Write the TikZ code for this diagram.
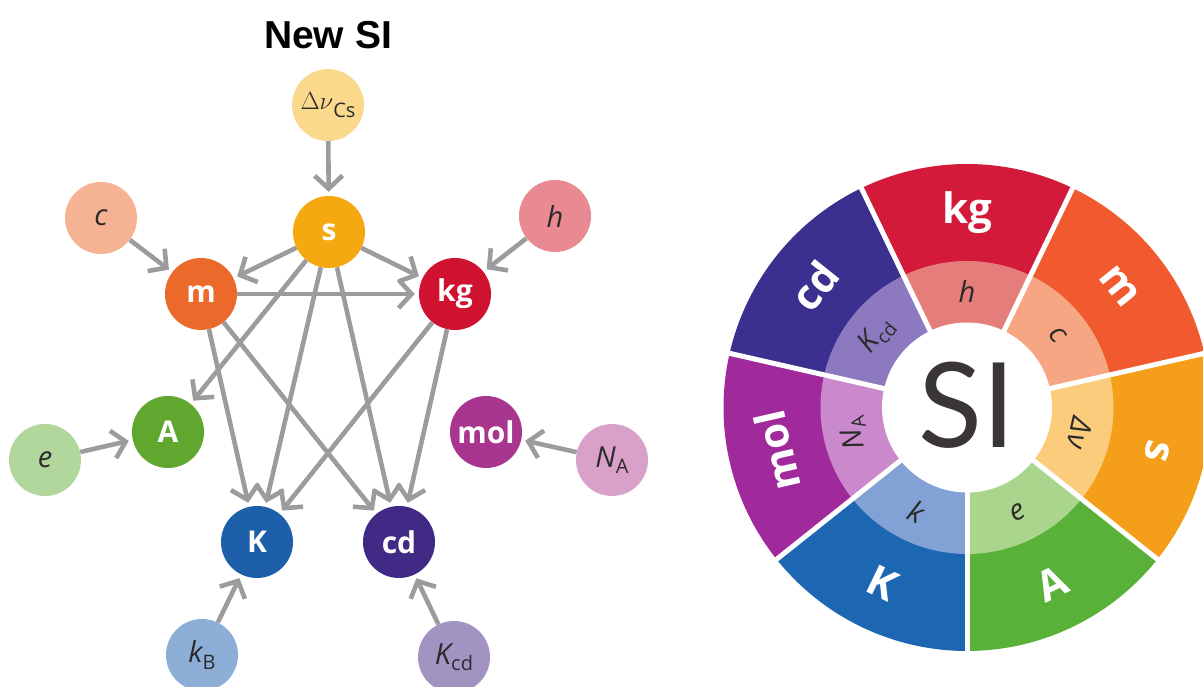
\documentclass[tikz,border=0pt]{standalone}
\usepackage{fontspec}
\setsansfont{Open Sans}
\newfontfamily\arialb{Liberation Sans}
\newfontfamily\lato{Lato}
\usetikzlibrary{arrows.meta}
\definecolor{cDnu}{HTML}{FAD98C}
\definecolor{cS}{HTML}{F5A80F}
\definecolor{cC}{HTML}{F5B394}
\definecolor{cM}{HTML}{EB6A2B}
\definecolor{cH}{HTML}{E98A93}
\definecolor{cKg}{HTML}{CF1230}
\definecolor{cA}{HTML}{5FA72F}
\definecolor{cE}{HTML}{B1D79C}
\definecolor{cMol}{HTML}{A8358F}
\definecolor{cNA}{HTML}{D9A1C9}
\definecolor{cK}{HTML}{1D5FA8}
\definecolor{cKB}{HTML}{8DAFD7}
\definecolor{cCd}{HTML}{402A85}
\definecolor{cKcd}{HTML}{A194C3}
\definecolor{edgec}{HTML}{9C9C9C}
\definecolor{txt}{HTML}{2B2B2B}
\definecolor{wKg}{HTML}{D31A3A}\definecolor{wH}{HTML}{E57D7B}
\definecolor{wM}{HTML}{F15A2F}\definecolor{wC}{HTML}{F6A683}
\definecolor{wS}{HTML}{F59E1A}\definecolor{wDnu}{HTML}{FACC7B}
\definecolor{wA}{HTML}{5AB13A}\definecolor{wE}{HTML}{A9D68C}
\definecolor{wK}{HTML}{1D67B2}\definecolor{wKk}{HTML}{82A2D5}
\definecolor{wMol}{HTML}{A0299B}\definecolor{wNA}{HTML}{C989CA}
\definecolor{wCd}{HTML}{3B2F8F}\definecolor{wKcd}{HTML}{8C79C0}
\definecolor{siText}{HTML}{3A3536}
\newcommand\mysub[1]{\raisebox{-0.22em}{\upshape\fontsize{20}{20}\selectfont #1}}
\newcommand\wsub[1]{\raisebox{-0.22em}{\upshape\fontsize{19}{19}\selectfont #1}}
\begin{document}
\begin{tikzpicture}[x=1pt,y=1pt,
  unitnode/.style={circle, minimum size=72pt, inner sep=0pt, text=white,
    font=\sffamily\bfseries\fontsize{30}{30}\selectfont},
  constnode/.style={circle, minimum size=72pt, inner sep=0pt, text=txt,
    font=\sffamily\itshape\fontsize{29}{29}\selectfont},
  link/.style={draw=edgec, line width=4.6pt, shorten >=4pt,
    -{Straight Barb[length=13pt,width=28pt,line width=4.6pt]}},
  outerlab/.style={text=white, font=\sffamily\bfseries\fontsize{42}{42}\selectfont},
  innerlab/.style={text=txt, font=\sffamily\itshape\fontsize{29}{29}\selectfont}
]
\useasboundingbox (0,0) rectangle (1203,686);

% ---------- left graph ----------
\node[font=\arialb\bfseries\fontsize{39}{39}\selectfont] (title) at (328,651) {New SI};

\node[constnode, fill=cDnu] (dnu) at (328,581) {\upshape\fontsize{33}{33}\selectfont$\Delta\nu$\mysub{Cs}};
\node[unitnode, fill=cS] (s) at (329,454) {s};
\node[constnode, fill=cC] (c) at (101,468) {c};
\node[unitnode, fill=cM] (m) at (201,392) {m};
\node[constnode, fill=cH] (h) at (555,470) {h};
\node[unitnode, fill=cKg] (kg) at (455,392) {kg};
\node[unitnode, fill=cA] (A) at (168,254) {A};
\node[constnode, fill=cE] (e) at (45,226) {e};
\node[unitnode, fill=cMol] (mol) at (486,254) {mol};
\node[constnode, fill=cNA] (NA) at (612,226) {N\mysub{A}};
\node[unitnode, fill=cK] (K) at (257,144) {K};
\node[constnode, fill=cKB] (kB) at (202,31) {k\mysub{B}};
\node[unitnode, fill=cCd] (cd) at (399,144) {cd};
\node[constnode, fill=cKcd] (Kcd) at (454,29) {K\mysub{cd}};

\draw[link] (dnu) -- (s);
\draw[link] (c) -- (m);
\draw[link] (h) -- (kg);
\draw[link] (s) -- (m);
\draw[link] (s) -- (kg);
\draw[link] (m) -- (kg);
\draw[link] (s) -- (A);
\draw[link] (s) -- (K);
\draw[link] (s) -- (cd);
\draw[link] (m) -- (K);
\draw[link] (m) -- (cd);
\draw[link] (kg) -- (K);
\draw[link] (kg) -- (cd);
\draw[link] (e) -- (A);
\draw[link] (NA) -- (mol);
\draw[link] (kB) -- (K);
\draw[link] (Kcd) -- (cd);

% ---------- SI wheel ----------
\begin{scope}[shift={(967,278.5)}]
  \foreach \a/\oc/\ic in {270/wA/wE, 321.4286/wS/wDnu, 372.8571/wM/wC,
      424.2857/wKg/wH, 475.7143/wCd/wKcd, 527.1429/wMol/wNA, 578.5714/wK/wKk}
  {
    \pgfmathsetmacro\b{\a+51.4286}
    \fill[\oc] (\a:146) arc[start angle=\a, end angle=\b, radius=146]
      -- (\b:243.5) arc[start angle=\b, end angle=\a, radius=243.5] -- cycle;
    \fill[\ic] (\a:84) arc[start angle=\a, end angle=\b, radius=84]
      -- (\b:146.5) arc[start angle=\b, end angle=\a, radius=146.5] -- cycle;
  }
  \foreach \k in {0,...,6}
  {
    \pgfmathsetmacro\d{270+\k*51.4286}
    \draw[white, line width=5pt] (\d:80) -- (\d:250);
  }
  \fill[white] (0,0) circle[radius=85];
  \node[text=siText, font=\lato\fontsize{118}{118}\selectfont] (si) at (0,2) {SI};

  % outer labels
  \node[outerlab, rotate=0] (lkg) at (90:195) {kg};
  \node[outerlab, rotate=-51.43] (lm) at (38.57:195) {m};
  \node[outerlab, rotate=-102.86] (ls) at (-12.86:195) {s};
  \node[outerlab, rotate=25.71] (lA) at (-64.29:195) {A};
  \node[outerlab, rotate=-25.71] (lK) at (-115.71:195) {K};
  \node[outerlab, rotate=102.86] (lmol) at (192.86:195) {mol};
  \node[outerlab, rotate=51.43] (lcd) at (141.43:195) {cd};

  % inner labels
  \node[innerlab, rotate=0] (ih) at (90:116) {h};
  \node[innerlab, rotate=-51.43] (ic) at (38.57:116) {c};
  \node[innerlab, rotate=-102.86] (idnu) at (-12.86:116) {Δ\kern0.5pt ν};
  \node[innerlab, rotate=25.71] (ie) at (-64.29:116) {e};
  \node[innerlab, rotate=-25.71] (ik) at (-115.71:116) {k};
  \node[innerlab, rotate=102.86] (iNA) at (192.86:116) {N\wsub{A}};
  \node[innerlab, rotate=51.43] (iKcd) at (141.43:116) {K\wsub{cd}};
\end{scope}
\end{tikzpicture}
\end{document}
